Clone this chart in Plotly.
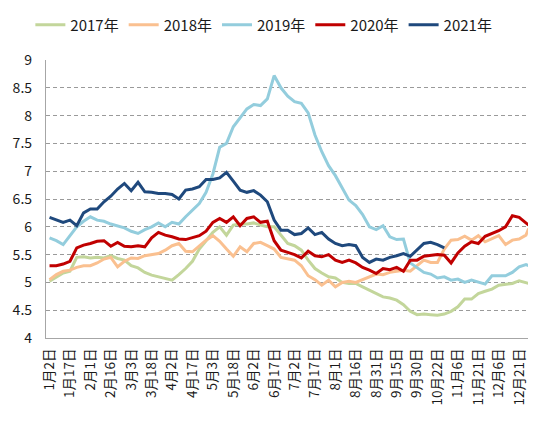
import datetime
import plotly.graph_objects as go

# ---------------- data ----------------
series_names = ["2017年", "2018年", "2019年", "2020年", "2021年"]
series_colors = ["#C3D69B", "#FAC090", "#93CDDD", "#C00000", "#1F497D"]

tick_labels = ["1月2日", "1月17日", "2月1日", "2月16日", "3月3日", "3月18日", "4月2日",
               "4月17日", "5月3日", "5月18日", "6月2日", "6月17日", "7月2日", "7月17日",
               "8月1日", "8月16日", "8月31日", "9月15日", "9月30日", "10月22日", "11月6日",
               "11月21日", "12月6日", "12月21日"]

# daily category axis (holidays May 1 and Oct 1-7 are not on the axis)
dates = []
d = datetime.date(2021, 1, 2)
while d <= datetime.date(2021, 12, 31):
    if not (d.month == 5 and d.day == 1) and not (d.month == 10 and d.day <= 7):
        dates.append(f"{d.month}月{d.day}日")
    d += datetime.timedelta(days=1)

# values read every 5th day of the axis
sample_dates = dates[0:351:5] + [dates[352]]

v2017 = [5.02, 5.1, 5.17, 5.2, 5.45, 5.46, 5.44, 5.45, 5.44, 5.48,
         5.43, 5.4, 5.3, 5.26, 5.18, 5.13, 5.1, 5.08, 5.04, 5.14,
         5.25, 5.38, 5.6, 5.75, 5.9, 6.0, 5.85, 6.03, 6.05, 6.05,
         6.07, 6.03, 6.0, 6.0, 5.85, 5.7, 5.66, 5.58, 5.4, 5.25,
         5.17, 5.1, 5.08, 5.0, 4.98, 4.98, 4.92, 4.86, 4.8, 4.74,
         4.72, 4.68, 4.6, 4.48, 4.42, 4.43, 4.42, 4.41, 4.43, 4.48,
         4.56, 4.7, 4.7, 4.8, 4.84, 4.88, 4.95, 4.97, 4.98, 5.03,
         5.0, 4.98]
v2018 = [5.05, 5.14, 5.2, 5.22, 5.27, 5.3, 5.3, 5.35, 5.42, 5.45,
         5.28, 5.38, 5.44, 5.43, 5.48, 5.5, 5.52, 5.58, 5.66, 5.7,
         5.56, 5.55, 5.65, 5.76, 5.84, 5.74, 5.6, 5.47, 5.64, 5.55,
         5.7, 5.72, 5.66, 5.6, 5.45, 5.43, 5.4, 5.3, 5.12, 5.05,
         4.95, 5.04, 4.92, 5.0, 5.02, 5.0, 5.05, 5.1, 5.15, 5.14,
         5.18, 5.2, 5.22, 5.2, 5.3, 5.4, 5.36, 5.36, 5.6, 5.76,
         5.77, 5.83, 5.76, 5.84, 5.73, 5.78, 5.84, 5.68, 5.76, 5.78,
         5.85, 5.97]
v2019 = [5.8, 5.75, 5.68, 5.85, 6.0, 6.1, 6.18, 6.12, 6.1, 6.05,
         6.02, 5.98, 5.92, 5.88, 5.95, 6.0, 6.07, 6.0, 6.08, 6.05,
         6.18, 6.3, 6.42, 6.62, 6.95, 7.43, 7.5, 7.8, 7.95, 8.12,
         8.2, 8.18, 8.3, 8.72, 8.5, 8.35, 8.25, 8.22, 8.05, 7.65,
         7.35, 7.1, 6.92, 6.7, 6.48, 6.38, 6.22, 6.0, 5.95, 6.02,
         5.82, 5.77, 5.78, 5.35, 5.27, 5.18, 5.15, 5.08, 5.1, 5.04,
         5.06, 5.0, 5.04, 5.0, 4.97, 5.12, 5.12, 5.12, 5.18, 5.28,
         5.32, 5.3]
v2020 = [5.3, 5.3, 5.33, 5.38, 5.62, 5.67, 5.7, 5.74, 5.75, 5.65,
         5.72, 5.65, 5.64, 5.66, 5.64, 5.8, 5.9, 5.85, 5.82, 5.78,
         5.77, 5.81, 5.84, 5.92, 6.08, 6.15, 6.08, 6.18, 6.02, 6.15,
         6.18, 6.08, 6.1, 5.75, 5.58, 5.54, 5.5, 5.44, 5.56, 5.48,
         5.46, 5.5, 5.4, 5.36, 5.4, 5.35, 5.27, 5.22, 5.16, 5.25,
         5.23, 5.27, 5.2, 5.4, 5.4, 5.47, 5.48, 5.5, 5.49, 5.35,
         5.53, 5.65, 5.73, 5.7, 5.83, 5.88, 5.93, 6.0, 6.2, 6.17,
         6.08, 6.03]
v2021 = [6.17, 6.13, 6.08, 6.12, 6.02, 6.25, 6.32, 6.32, 6.45, 6.55,
         6.68, 6.78, 6.65, 6.8, 6.63, 6.62, 6.6, 6.6, 6.58, 6.5,
         6.66, 6.68, 6.72, 6.85, 6.85, 6.88, 6.98, 6.82, 6.66, 6.62,
         6.65, 6.57, 6.45, 6.12, 5.94, 5.94, 5.86, 5.88, 5.98, 5.86,
         5.9, 5.78, 5.7, 5.66, 5.68, 5.66, 5.45, 5.36, 5.42, 5.4,
         5.45, 5.48, 5.52, 5.47, 5.58, 5.7, 5.72, 5.68, 5.62] + [None] * 13

all_values = [v2017, v2018, v2019, v2020, v2021]

# ---------------- figure ----------------
x_idx = [dates.index(s) for s in sample_dates]
tick_idx = [dates.index(t) for t in tick_labels]

FONT = "Noto Sans CJK SC, Microsoft YaHei, sans-serif"

fig = go.Figure()
for name, color, vals in zip(series_names, series_colors, all_values):
    fig.add_trace(go.Scatter(
        x=x_idx, y=vals, name=name, mode="lines",
        line=dict(color=color, width=3),
        connectgaps=False,
    ))

fig.update_layout(
    width=542, height=414,
    margin=dict(l=38, r=22, t=52, b=84, autoexpand=False),
    paper_bgcolor="white", plot_bgcolor="white",
    font=dict(family=FONT, size=14, color="#1a1a1a"),
    showlegend=True,
    legend=dict(orientation="h", x=0.452, xanchor="center",
                yref="container", y=0.959, yanchor="middle",
                font=dict(size=15, color="#1a1a1a"), itemwidth=30,
                traceorder="normal"),
)
fig.update_xaxes(
    range=[-2.6, 351.5],
    tickmode="array", tickvals=tick_idx, ticktext=tick_labels,
    tickangle=-90, tickfont=dict(size=13.5, color="#1a1a1a"),
    showgrid=False, zeroline=False,
    showline=True, linecolor="#a6a6a6", linewidth=1.3,
    ticks="", ticklabelstandoff=4,
)
fig.update_yaxes(
    range=[4, 9], dtick=0.5, tick0=4,
    showgrid=True, gridcolor="#9a9a9a", gridwidth=1, griddash="4px,3px",
    zeroline=False,
    showline=True, linecolor="#a6a6a6", linewidth=1.3,
    tickfont=dict(size=14, color="#1a1a1a"),
    ticks="", ticklabelstandoff=10,
)

fig.write_html("out.html")
